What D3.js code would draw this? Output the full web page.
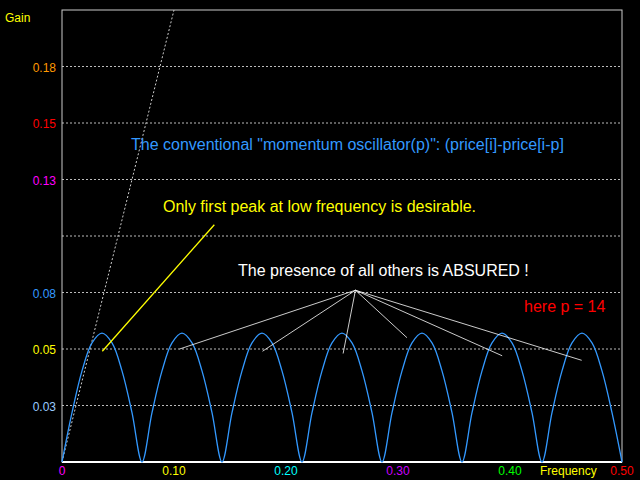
<!DOCTYPE html>
<html><head><meta charset="utf-8">
<script src="https://cdn.jsdelivr.net/npm/d3@7"></script>
<style>body{margin:0;background:#000}svg{display:block}text{font-family:"Liberation Sans",Arial,sans-serif}</style>
</head><body><svg id="c" width="640" height="480"></svg>
<script>
// gain samples every 1/112 of frequency (8 per lobe, p = 14)
const freqStep = 1/112;
const lobe = [0, 0.0218, 0.0403, 0.0527, 0.057, 0.0527, 0.0403, 0.0218];
const gain = [
 0,0.0218,0.0403,0.0527,0.057,0.0527,0.0403,0.0218,
 0,0.0218,0.0403,0.0527,0.057,0.0527,0.0403,0.0218,
 0,0.0218,0.0403,0.0527,0.057,0.0527,0.0403,0.0218,
 0,0.0218,0.0403,0.0527,0.057,0.0527,0.0403,0.0218,
 0,0.0218,0.0403,0.0527,0.057,0.0527,0.0403,0.0218,
 0,0.0218,0.0403,0.0527,0.057,0.0527,0.0403,0.0218,
 0,0.0218,0.0403,0.0527,0.057,0.0527,0.0403,0.0218,
 0];
const gridVals = [0.025,0.05,0.075,0.1,0.125,0.15,0.175];
const yTicks = [[0.025,"0.03","#9cf"],[0.05,"0.05","#ff0"],[0.075,"0.08","#39f"],[0.125,"0.13","#f0f"],[0.15,"0.15","#f00"],[0.175,"0.18","#f90"]];
const xTicks = [[0,"0","#f0f"],[0.1,"0.10","#ff0"],[0.2,"0.20","#0ff"],[0.3,"0.30","#c0f"],[0.4,"0.40","#0f0"],[0.5,"0.50","#f00"]];
const diag = [[0,0],[0.1,0.2]];
const yellowLine = [[0.136,0.105],[0.036,0.049]];
const hub = [0.262,0.076];
const whiteEnds = [[0.105,0.05],[0.179,0.049],[0.251,0.048],[0.308,0.055],[0.393,0.047],[0.464,0.045]];

const svg = d3.select("#c");
const x = d3.scaleLinear().domain([0,0.5]).range([62,622]);
const y = d3.scaleLinear().domain([0,0.2]).range([462,10]);

svg.selectAll(".g").data(gridVals).join("line")
 .attr("x1",62).attr("x2",622).attr("y1",d=>y(d)).attr("y2",d=>y(d))
 .attr("stroke","#bbb").attr("stroke-dasharray","2,2").attr("stroke-width",1);
svg.append("rect").attr("x",62).attr("y",10).attr("width",560).attr("height",452)
 .attr("fill","none").attr("stroke","#ccc").attr("stroke-width",1);
svg.append("line").attr("x1",62).attr("x2",622).attr("y1",462).attr("y2",462).attr("stroke","#fff").attr("stroke-width",2);

svg.append("path").datum(diag).attr("d",d3.line().x(d=>x(d[0])).y(d=>y(d[1])))
 .attr("stroke","#ccc").attr("stroke-dasharray","2,2").attr("fill","none");

svg.append("path").datum(gain)
 .attr("d",d3.line().x((d,i)=>x(i*freqStep)).y(d=>y(d)).curve(d3.curveCatmullRom))
 .attr("stroke","#3399ff").attr("stroke-width",1.3).attr("fill","none");

svg.selectAll(".yt").data(yTicks).join("text").attr("x",56).attr("y",d=>y(d[0])+5)
 .attr("text-anchor","end").attr("font-size",12).attr("fill",d=>d[2]).text(d=>d[1]);
svg.selectAll(".xt").data(xTicks).join("text").attr("x",d=>x(d[0])).attr("y",475)
 .attr("text-anchor","middle").attr("font-size",12).attr("fill",d=>d[2]).text(d=>d[1]);
svg.append("text").attr("x",5).attr("y",22).attr("font-size",12).attr("fill","#ff0").text("Gain");
svg.append("text").attr("x",540).attr("y",475).attr("font-size",12).attr("fill","#ff0").text("Frequency");

svg.append("path").datum(yellowLine).attr("d",d3.line().x(d=>x(d[0])).y(d=>y(d[1])))
 .attr("stroke","#ff0").attr("stroke-width",1.3);
svg.selectAll(".wl").data(whiteEnds).join("line")
 .attr("x1",x(hub[0])).attr("y1",y(hub[1])).attr("x2",d=>x(d[0])).attr("y2",d=>y(d[1]))
 .attr("stroke","#fff").attr("stroke-width",0.8);

svg.append("text").attr("x",131).attr("y",150).attr("font-size",16).attr("fill","#3399ff")
 .text('The conventional "momentum oscillator(p)": (price[i]-price[i-p]');
svg.append("text").attr("x",163).attr("y",212).attr("font-size",16).attr("fill","#ff0")
 .text("Only first peak at low frequency is desirable.");
svg.append("text").attr("x",238).attr("y",276).attr("font-size",16).attr("fill","#fff")
 .text("The presence of all others is ABSURED !");
svg.append("text").attr("x",524).attr("y",312).attr("font-size",16).attr("fill","#f00")
 .text("here p = 14");
</script></body></html>
